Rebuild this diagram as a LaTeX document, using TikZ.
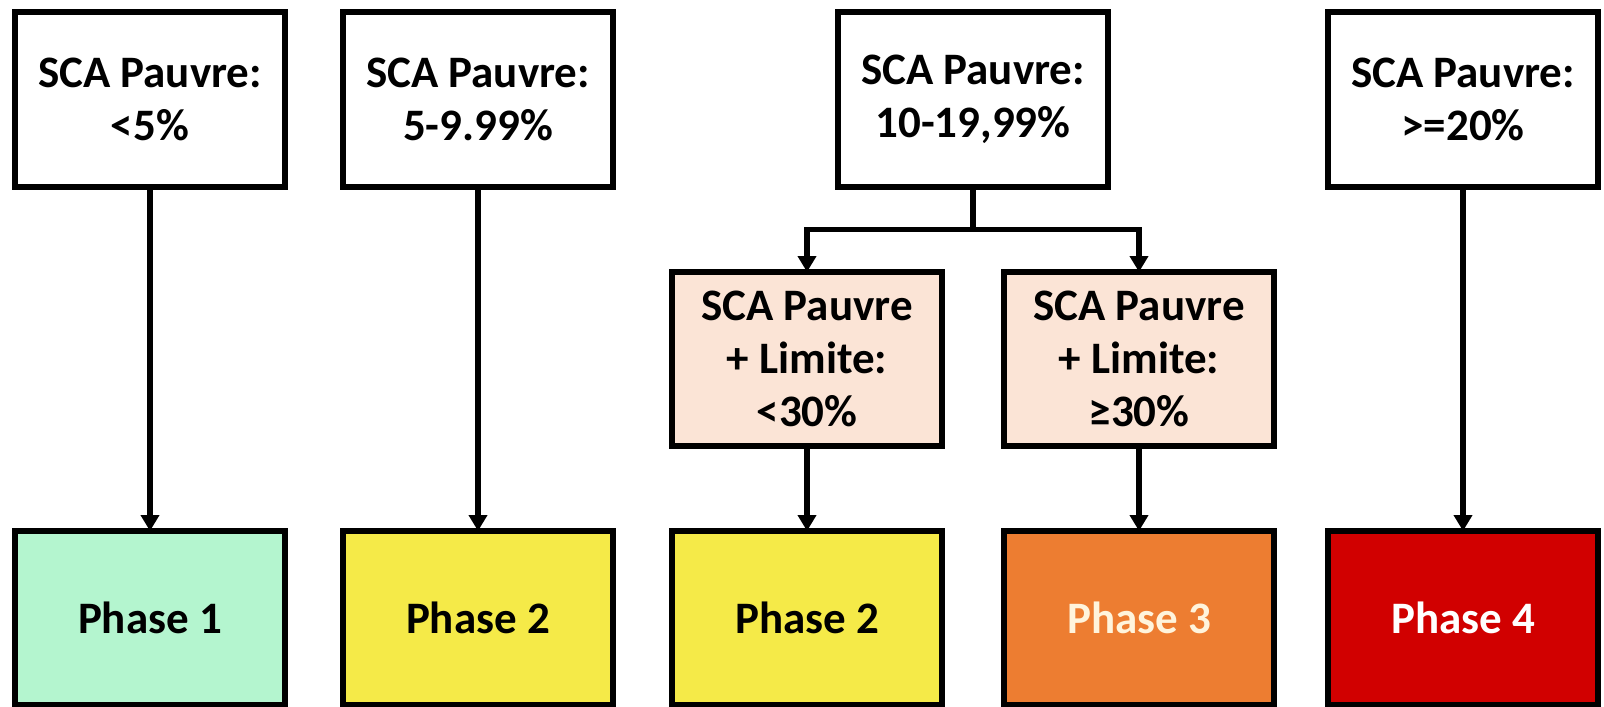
\documentclass[tikz,border=0pt]{standalone}
\usepackage{fontspec}
\setmainfont{Carlito}
\usepackage{tikz}
\usetikzlibrary{positioning, arrows.meta, calc}

\definecolor{phaseone}{HTML}{B4F5CF}
\definecolor{phasetwo}{HTML}{F5EA48}
\definecolor{phasethree}{HTML}{ED7D31}
\definecolor{phasefour}{HTML}{D10000}
\definecolor{limitefill}{HTML}{FBE4D6}
\definecolor{lighttext}{HTML}{FFF4DC}

\tikzset{
  box/.style={draw, rectangle, line width=3pt, outer sep=0pt, minimum width=135pt, minimum height=87pt, align=center, font=\fontsize{22.5pt}{26.5pt}\selectfont\bfseries},
  scabox/.style={box, fill=white},
  limitebox/.style={box, fill=limitefill},
  phasebox/.style={box},
  link/.style={line width=2.6pt, -{Triangle[width=9pt, length=8pt]}}
}

\begin{document}
\begin{tikzpicture}[node distance=164pt, on grid, >=Stealth]
			\fill[white] (0,0) rectangle (802pt,-353pt);
			\useasboundingbox (0,0) rectangle (802pt,-353pt);
			% bottom row: phases
			\node (p1) [phasebox, fill=phaseone] at (75pt,-309pt) {Phase 1};
			\node (p2a) [phasebox, fill=phasetwo, right=164pt of p1] {Phase 2};
			\node (p2b) [phasebox, fill=phasetwo, right=164.5pt of p2a] {Phase 2};
			\node (p3) [phasebox, fill=phasethree, text=lighttext, right=166pt of p2b] {Phase 3};
			\node (p4) [phasebox, fill=phasefour, text=white, right=162pt of p3] {Phase 4};
			% middle row
			\node (m1) [limitebox, above=129.5pt of p2b] {SCA Pauvre\\+ Limite:\\<30\%};
			\node (m2) [limitebox, above=129.5pt of p3] {SCA Pauvre\\+ Limite:\\≥30\%};
			% top row
			\node (t1) [scabox, above=259.25pt of p1] {SCA Pauvre:\\<5\%};
			\node (t2) [scabox, above=259.25pt of p2a] {SCA Pauvre:\\5-9.99\%};
			\node (t3) [scabox] at ($(m1)!0.5!(m2) + (0,129.75pt)$) {SCA Pauvre:\\10-19,99\%};
			\node (t4) [scabox, above=259.25pt of p4] {SCA Pauvre:\\>=20\%};
			\coordinate (split) at ($(t3.south)!0.5!(t3.south |- m1.north)$);
			\draw[link] (t1) -- (p1);
			\draw[link] (t2) -- (p2a);
			\draw[link] (t4) -- (p4);
			\draw[line width=2.6pt] (t3) -- (split);
			\draw[link] (split) -| (m1);
			\draw[link] (split) -| (m2);
			\draw[link] (m1) -- (p2b);
			\draw[link] (m2) -- (p3);
		\end{tikzpicture}
\end{document}
